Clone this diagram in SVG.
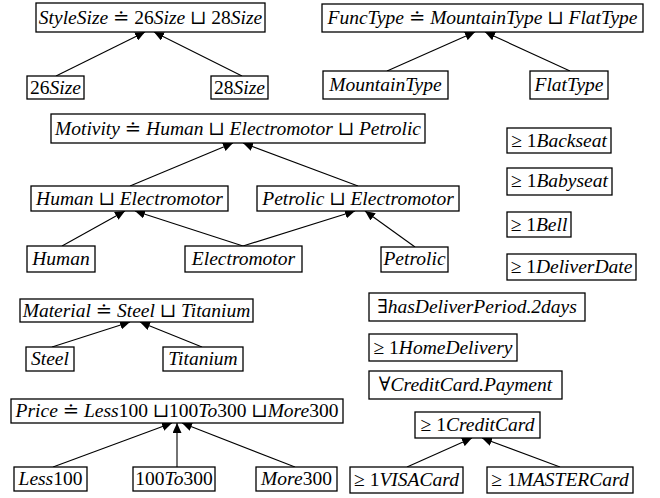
<svg xmlns="http://www.w3.org/2000/svg" width="660" height="498" viewBox="0 0 660 498" font-family="'Liberation Serif', 'Times New Roman', Times, 'DejaVu Serif', serif">
<style>
rect{fill:#fff;stroke:#000;stroke-width:1.3}
text{font-family:'Liberation Serif','Times New Roman',Times,'DejaVu Serif',serif;font-size:19.5px;font-style:italic;text-anchor:middle;fill:#000}
.n{font-style:normal}
#edges line{stroke:#000;stroke-width:1.1;marker-end:url(#ah)}
</style>
<defs>
<marker id="ah" markerUnits="userSpaceOnUse" markerWidth="10" markerHeight="9" refX="10" refY="4.5" orient="auto" viewBox="0 0 10 9">
<path d="M0,0 L10,4.5 L0,9 z" fill="#000"/>
</marker>
</defs>
<g id="edges">
<line x1="56" y1="76" x2="145" y2="32"/>
<line x1="242" y1="76" x2="154" y2="32"/>
<line x1="387" y1="71" x2="475" y2="32"/>
<line x1="570" y1="71" x2="485" y2="32"/>
<line x1="130" y1="186" x2="233" y2="143"/>
<line x1="358" y1="186" x2="243" y2="143"/>
<line x1="62" y1="246" x2="125" y2="211"/>
<line x1="243" y1="246" x2="135" y2="211"/>
<line x1="243" y1="246" x2="355" y2="211"/>
<line x1="415" y1="247" x2="365" y2="211"/>
<line x1="52" y1="347" x2="130" y2="322"/>
<line x1="202" y1="347" x2="140" y2="322"/>
<line x1="53" y1="467" x2="172" y2="423"/>
<line x1="177" y1="467" x2="177" y2="423"/>
<line x1="295" y1="467" x2="182" y2="423"/>
<line x1="407" y1="467" x2="472" y2="438"/>
<line x1="560" y1="467" x2="482" y2="438"/>
</g>
<g id="styleSize"><rect x="36" y="3" width="229" height="29"/><text x="150.5" y="24">StyleSize<tspan class="n"> ≐ 26</tspan>Size<tspan class="n"> ⊔ 28</tspan>Size</text></g>
<g id="size26"><rect x="27" y="76" width="57" height="23"/><text x="55.5" y="94"><tspan class="n">26</tspan>Size</text></g>
<g id="size28"><rect x="211" y="76" width="57" height="23"/><text x="239.5" y="94"><tspan class="n">28</tspan>Size</text></g>
<g id="funcType"><rect x="322" y="4" width="321" height="28"/><text x="482.5" y="24">FuncType<tspan class="n"> ≐ </tspan>MountainType<tspan class="n"> ⊔ </tspan>FlatType</text></g>
<g id="mountainType"><rect x="323" y="71" width="125" height="28"/><text x="385.5" y="91">MountainType</text></g>
<g id="flatType"><rect x="530" y="71" width="78" height="28"/><text x="569" y="91">FlatType</text></g>
<g id="motivity"><rect x="51" y="114" width="374" height="29"/><text x="238" y="135">Motivity<tspan class="n"> ≐ </tspan>Human<tspan class="n"> ⊔ </tspan>Electromotor<tspan class="n"> ⊔ </tspan>Petrolic</text></g>
<g id="humanElectromotor"><rect x="31" y="186" width="197" height="25"/><text x="129.5" y="205">Human<tspan class="n"> ⊔ </tspan>Electromotor</text></g>
<g id="petrolicElectromotor"><rect x="257" y="186" width="202" height="25"/><text x="358" y="205">Petrolic<tspan class="n"> ⊔ </tspan>Electromotor</text></g>
<g id="human"><rect x="27" y="246" width="68" height="26"/><text x="61" y="265">Human</text></g>
<g id="electromotor"><rect x="185" y="246" width="117" height="26"/><text x="243.5" y="265">Electromotor</text></g>
<g id="petrolic"><rect x="381" y="247" width="67" height="25"/><text x="414.5" y="265">Petrolic</text></g>
<g id="backseat"><rect x="507" y="128" width="104" height="25"/><text x="559" y="147"><tspan class="n">≥ 1</tspan>Backseat</text></g>
<g id="babyseat"><rect x="507" y="168" width="105" height="27"/><text x="559.5" y="187"><tspan class="n">≥ 1</tspan>Babyseat</text></g>
<g id="bell"><rect x="507" y="212" width="64" height="25"/><text x="539" y="231"><tspan class="n">≥ 1</tspan>Bell</text></g>
<g id="deliverDate"><rect x="507" y="254" width="129" height="26"/><text x="571.5" y="273"><tspan class="n">≥ 1</tspan>DeliverDate</text></g>
<g id="material"><rect x="20" y="299" width="233" height="23"/><text x="136.5" y="317">Material<tspan class="n"> ≐ </tspan>Steel<tspan class="n"> ⊔ </tspan>Titanium</text></g>
<g id="steel"><rect x="26" y="347" width="48" height="24"/><text x="50" y="365">Steel</text></g>
<g id="titanium"><rect x="163" y="347" width="80" height="24"/><text x="203" y="365">Titanium</text></g>
<g id="price"><rect x="11" y="399" width="332" height="24"/><text x="177" y="417">Price<tspan class="n"> ≐ </tspan>Less<tspan class="n">100 ⊔100</tspan>To<tspan class="n">300 ⊔</tspan>More<tspan class="n">300</tspan></text></g>
<g id="less100"><rect x="14" y="467" width="73" height="24"/><text x="50.5" y="485">Less<tspan class="n">100</tspan></text></g>
<g id="to300"><rect x="133" y="467" width="82" height="24"/><text x="174" y="485"><tspan class="n">100</tspan>To<tspan class="n">300</tspan></text></g>
<g id="more300"><rect x="256" y="467" width="81" height="24"/><text x="296.5" y="485">More<tspan class="n">300</tspan></text></g>
<g id="hasDeliverPeriod"><rect x="369" y="293" width="216" height="28"/><text x="477" y="313"><tspan class="n">∃</tspan>hasDeliverPeriod.2days</text></g>
<g id="homeDelivery"><rect x="369" y="334" width="148" height="27"/><text x="443" y="354"><tspan class="n">≥ 1</tspan>HomeDelivery</text></g>
<g id="creditCardPayment"><rect x="369" y="371" width="193" height="28"/><text x="465.5" y="391"><tspan class="n">∀</tspan>CreditCard.Payment</text></g>
<g id="creditCard"><rect x="415" y="412" width="125" height="26"/><text x="477.5" y="431"><tspan class="n">≥ 1</tspan>CreditCard</text></g>
<g id="visaCard"><rect x="350" y="467" width="113" height="26"/><text x="406.5" y="486"><tspan class="n">≥ 1</tspan>VISACard</text></g>
<g id="masterCard"><rect x="487" y="467" width="146" height="26"/><text x="560" y="486"><tspan class="n">≥ 1</tspan>MASTERCard</text></g>
</svg>
